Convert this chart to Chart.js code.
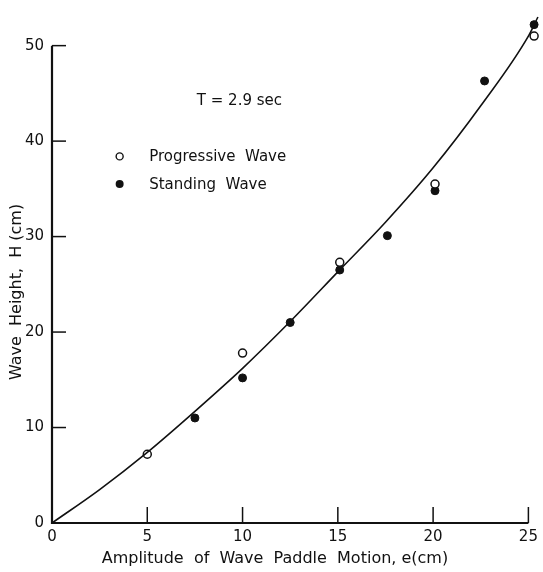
<!DOCTYPE html>
<html>
<head>
<meta charset="utf-8">
<script src="https://cdn.jsdelivr.net/npm/chart.js@4"></script>
<style>
  html, body { margin: 0; padding: 0; background: #fff; }
  #wrap { width: 543px; height: 572px; }
</style>
</head>
<body>
<div id="wrap"><canvas id="chart1"></canvas></div>
<script>
// progressive wave (open circles)
let progX = [5, 10, 15.1, 20.1, 25.3]
let progH = [7.2, 17.8, 27.3, 35.5, 51]
// standing wave (filled circles)
let standX = [7.5, 10, 12.5, 15.1, 17.6, 20.1, 22.7, 25.3]
let standH = [11, 15.2, 21, 26.5, 30.1, 34.8, 46.3, 52.2]
// fitted curve
let curveX = [0, 2.5, 5, 7.5, 10, 12.5, 15, 17.5, 20, 22.5, 25, 25.5]
let curveH = [0, 3.5, 7.4, 11.7, 16.2, 21.1, 26.3, 31.5, 37.2, 43.7, 51.0, 53]

let xTicks = [0, 5, 10, 15, 20, 25]
let yTicks = [0, 10, 20, 30, 40, 50]

let ink = '#111'
let font = 'DejaVu Sans, Verdana, sans-serif'

function pts(xs, ys) {
  let out = []
  for (let i = 0; i < xs.length; i++) out.push({x: xs[i], y: ys[i]})
  return out
}

// axis lines + inward ticks + titles + the text block in the plot
const decor = {
  id: 'decor',
  afterDraw(chart) {
    let ctx = chart.ctx
    let xs = chart.scales.x, ys = chart.scales.y
    let x0 = xs.getPixelForValue(0), y0 = ys.getPixelForValue(0)
    ctx.save()
    ctx.strokeStyle = ink
    ctx.lineWidth = 2.2
    ctx.beginPath()
    ctx.moveTo(x0, ys.getPixelForValue(50))
    ctx.lineTo(x0, y0)
    ctx.lineTo(xs.getPixelForValue(25), y0)
    ctx.stroke()
    ctx.lineWidth = 1.5
    yTicks.forEach(v => {
      let py = ys.getPixelForValue(v)
      ctx.beginPath(); ctx.moveTo(x0, py); ctx.lineTo(x0 + 14, py); ctx.stroke()
    })
    xTicks.forEach(v => {
      let px = xs.getPixelForValue(v)
      ctx.beginPath(); ctx.moveTo(px, y0); ctx.lineTo(px, y0 - 16); ctx.stroke()
    })
    ctx.fillStyle = ink
    ctx.font = '16px ' + font
    ctx.textBaseline = 'middle'
    // axis titles
    ctx.textAlign = 'center'
    ctx.fillText('Amplitude  of  Wave  Paddle  Motion, e(cm)', xs.getPixelForValue(11.7), y0 + 36)
    ctx.save()
    ctx.translate(17, ys.getPixelForValue(24.2))
    ctx.rotate(-Math.PI / 2)
    ctx.fillText('Wave  Height,  H (cm)', 0, 0)
    ctx.restore()
    // text block
    ctx.font = '15px ' + font
    ctx.textAlign = 'left'
    ctx.fillText('T = 2.9 sec', xs.getPixelForValue(7.6), ys.getPixelForValue(44.2))
    ctx.fillText('Progressive  Wave', xs.getPixelForValue(5.1), ys.getPixelForValue(38.3))
    ctx.fillText('Standing  Wave', xs.getPixelForValue(5.1), ys.getPixelForValue(35.4))
    let mx = xs.getPixelForValue(3.55)
    ctx.lineWidth = 1.4
    ctx.beginPath(); ctx.arc(mx, ys.getPixelForValue(38.4), 3.5, 0, Math.PI * 2); ctx.stroke()
    ctx.beginPath(); ctx.arc(mx, ys.getPixelForValue(35.5), 4, 0, Math.PI * 2); ctx.fill()
    ctx.restore()
  }
}

const data = {
  datasets: [
    {
      label: 'fit',
      data: pts(curveX, curveH),
      showLine: true,
      borderColor: ink,
      borderWidth: 1.6,
      pointRadius: 0,
      cubicInterpolationMode: 'monotone',
      clip: false
    },
    {
      label: 'Progressive Wave',
      data: pts(progX, progH),
      pointStyle: 'circle',
      pointRadius: 4,
      pointBackgroundColor: '#fff',
      pointBorderColor: ink,
      pointBorderWidth: 1.5,
      clip: false
    },
    {
      label: 'Standing Wave',
      data: pts(standX, standH),
      pointStyle: 'circle',
      pointRadius: 4,
      pointBackgroundColor: ink,
      pointBorderColor: ink,
      pointBorderWidth: 1,
      clip: false
    }
  ]
}

const config = {
  type: 'scatter',
  data: data,
  options: {
    responsive: true,
    maintainAspectRatio: false,
    animation: false,
    layout: { padding: { top: 17, right: 5, left: 0, bottom: 0 } },
    plugins: { legend: { display: false }, tooltip: { enabled: false } },
    scales: {
      x: {
        type: 'linear', min: 0, max: 25.3,
        afterFit: s => { s.height = 49 },
        afterBuildTicks: s => { s.ticks = xTicks.map(v => ({value: v})) },
        grid: { display: false, drawTicks: false },
        border: { display: false },
        ticks: { color: ink, font: { size: 15, family: font }, padding: 5, maxRotation: 0 }
      },
      y: {
        type: 'linear', min: 0, max: 53,
        afterFit: s => { s.width = 52 },
        afterBuildTicks: s => { s.ticks = yTicks.map(v => ({value: v})) },
        grid: { display: false, drawTicks: false },
        border: { display: false },
        ticks: { color: ink, font: { size: 15, family: font }, padding: 8 }
      }
    }
  },
  plugins: [decor]
}

const myChart = new Chart(document.getElementById('chart1'), config)
</script>
</body>
</html>
